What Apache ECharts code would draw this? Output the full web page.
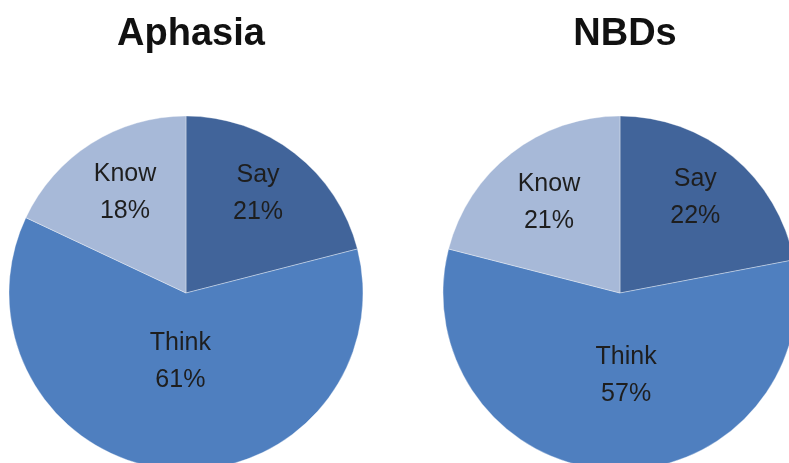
<!DOCTYPE html>
<html lang="en">
<head>
    <meta charset="UTF-8">
    <title>Aphasia vs NBDs</title>
    <style>
        html, body { margin: 0; padding: 0; background: #fff; }
        #main { width: 789px; height: 463px; }
    </style>
</head>
<body>
    <div id="main"></div>
</body>
<script src="https://cdn.jsdelivr.net/npm/echarts@6/dist/echarts.min.js"></script>
<script>
    var main = echarts.init(document.getElementById('main'));

    var categories = ['Say', 'Think', 'Know'];
    var aphasiaValues = [21, 61, 18];
    var nbdValues = [22, 57, 21];
    var colors = ['#41649a', '#4f7fbf', '#a7b9d8'];

    // label nudges, Excel puts labels in its own spots
    var aphasiaOffsets = [[16, -27], [3, -22], [-12, -23]];
    var nbdOffsets = [[17, -25], [9, -9], [-15, -18]];

    function buildData(values, offsets) {
        return categories.map(function (name, i) {
            return {
                name: name,
                value: values[i],
                itemStyle: { color: colors[i] },
                label: { offset: offsets[i] }
            };
        });
    }

    function pieSeries(center, values, offsets) {
        return {
            type: 'pie',
            radius: [0, 177],
            center: center,
            startAngle: 90,
            clockwise: true,
            silent: true,
            animation: false,
            itemStyle: {
                borderColor: 'rgba(255,255,255,0.35)',
                borderWidth: 1
            },
            label: {
                show: true,
                position: 'inside',
                formatter: '{b}\n{d}%',
                color: '#1e1e1e',
                fontFamily: 'Liberation Sans',
                fontSize: 25,
                lineHeight: 37
            },
            labelLine: { show: false },
            data: buildData(values, offsets)
        };
    }

    var titleStyle = {
        color: '#111',
        fontFamily: 'Liberation Sans',
        fontWeight: 'bold',
        fontSize: 38
    };

    var option = {
        backgroundColor: '#fff',
        title: [{
            text: 'Aphasia',
            left: 186,
            top: 11,
            textAlign: 'center',
            textStyle: titleStyle
        }, {
            text: 'NBDs',
            left: 620,
            top: 11,
            textAlign: 'center',
            textStyle: titleStyle
        }],
        series: [
            pieSeries([186, 293], aphasiaValues, aphasiaOffsets),
            pieSeries([620, 293], nbdValues, nbdOffsets)
        ]
    };
    main.setOption(option);
</script>
</html>
